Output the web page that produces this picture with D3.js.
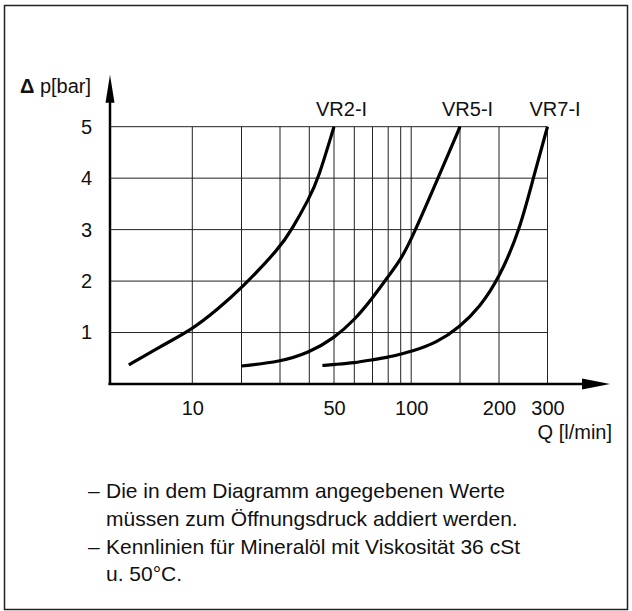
<!DOCTYPE html>
<html>
<head>
<meta charset="utf-8">
<script src="https://cdn.jsdelivr.net/npm/d3@7"></script>
<style>
  body { margin: 0; background: #fff; }
  text { font-family: "Liberation Sans", Arial, sans-serif; fill: #111; }
</style>
</head>
<body>
<script>
// grid lines and labels on the flow axis (l/min)
var qGrid = [10, 20, 30, 40, 50, 60, 70, 80, 90, 100, 150, 200, 300];
var qTicks = [10, 50, 100, 200, 300];
// pressure drop ticks (bar)
var pTicks = [1, 2, 3, 4, 5];

// curves: flow Q [l/min] and pressure drop [bar]
var vr2Q = [4.6, 7.2, 10, 15, 20, 30, 34, 40, 43.7, 50];
var vr2P = [0.37, 0.72, 1.06, 1.44, 1.86, 2.65, 3.0, 3.61, 4.0, 5.0];

var vr5Q = [20, 30, 40, 50, 60, 70, 80, 90, 100, 127.5, 150];
var vr5P = [0.35, 0.43, 0.61, 0.89, 1.24, 1.67, 2.09, 2.42, 2.8, 4.0, 5.0];

var vr7Q = [45.3, 50, 60, 70, 80, 90, 100, 126, 150, 175.6, 200, 243, 270.5, 300];
var vr7P = [0.36, 0.38, 0.41, 0.47, 0.52, 0.58, 0.63, 0.8, 1.11, 1.5, 2.05, 3.0, 4.0, 5.0];

var curveNames = ["VR2-I", "VR5-I", "VR7-I"];

var notes = [
    ["–", "Die in dem Diagramm angegebenen Werte"],
    ["", "müssen zum Öffnungsdruck addiert werden."],
    ["–", "Kennlinien für Mineralöl mit Viskosität 36 cSt"],
    ["", "u. 50°C."]
];

var width = 632, height = 611;

var svg = d3.select("body").append("svg")
    .attr("width", width)
    .attr("height", height);

// outer frame
svg.append("rect")
    .attr("x", 4.5).attr("y", 5.5)
    .attr("width", 623).attr("height", 604)
    .attr("fill", "none")
    .attr("stroke", "#222")
    .attr("stroke-width", 1.5);

// the flow axis of the drawing is not a clean log scale,
// so use a piecewise linear scale through the grid lines
var x = d3.scaleLinear()
    .domain([3].concat(qGrid))
    .range([110, 192.3, 241.5, 280, 309.3, 334, 354.3, 372.5, 388.2, 400.7, 411.2, 460, 499, 547.5]);

var y = d3.scaleLinear()
    .domain([0, 5])
    .range([384, 126.7]);

var x0 = x.range()[0], xEnd = x(300);

// grid
svg.append("g").selectAll("line")
    .data(pTicks)
    .enter().append("line")
    .attr("x1", x0).attr("x2", xEnd)
    .attr("y1", function(d) { return y(d); })
    .attr("y2", function(d) { return y(d); })
    .attr("stroke", "#222").attr("stroke-width", 1);

svg.append("g").selectAll("line")
    .data(qGrid)
    .enter().append("line")
    .attr("x1", function(d) { return x(d); })
    .attr("x2", function(d) { return x(d); })
    .attr("y1", y(0)).attr("y2", y(5))
    .attr("stroke", "#222").attr("stroke-width", 1);

// axes, labels only
var yAxis = svg.append("g")
    .attr("transform", "translate(" + x0 + ",0)")
    .call(d3.axisLeft(y).tickValues(pTicks).tickFormat(d3.format("d"))
        .tickSize(0).tickPadding(18));
yAxis.select(".domain").remove();

var xAxis = svg.append("g")
    .attr("transform", "translate(0," + y(0) + ")")
    .call(d3.axisBottom(x).tickValues(qTicks).tickFormat(d3.format("d"))
        .tickSize(0).tickPadding(17));
xAxis.select(".domain").remove();

svg.selectAll(".tick text")
    .attr("font-family", "Liberation Sans, Arial, sans-serif")
    .attr("font-size", 20)
    .attr("fill", "#111");

// axis lines with arrow heads
svg.append("line")
    .attr("x1", x0).attr("x2", x0)
    .attr("y1", y(0) + 1).attr("y2", y(5) - 26)
    .attr("stroke", "#000").attr("stroke-width", 2.5);
svg.append("path")
    .attr("d", "M" + (x0 - 4.5) + "," + (y(5) - 24) + "L" + x0 + "," + (y(5) - 52) +
        "L" + (x0 + 4.5) + "," + (y(5) - 24) + "Z")
    .attr("fill", "#000");

svg.append("line")
    .attr("x1", x0 - 1.5).attr("x2", 585)
    .attr("y1", y(0)).attr("y2", y(0))
    .attr("stroke", "#000").attr("stroke-width", 2.5);
svg.append("path")
    .attr("d", "M582," + (y(0) - 5.5) + "L610," + y(0) + "L582," + (y(0) + 5.5) + "Z")
    .attr("fill", "#000");

// axis titles
svg.append("text")
    .attr("x", 20).attr("y", 93)
    .attr("font-size", 20)
    .call(function(t) {
        t.append("tspan").attr("font-weight", "bold").text("Δ");
        t.append("tspan").text(" p[bar]");
    });

svg.append("text")
    .attr("x", 612).attr("y", 439)
    .attr("text-anchor", "end")
    .attr("font-size", 20)
    .text("Q [l/min]");

// curves
var series = [
    d3.zip(vr2Q, vr2P),
    d3.zip(vr5Q, vr5P),
    d3.zip(vr7Q, vr7P)
];

// basis curve smooths out small reading errors
var valueline = d3.line()
    .x(function(d) { return x(d[0]); })
    .y(function(d) { return y(d[1]); })
    .curve(d3.curveBasis);

svg.append("g").selectAll("path")
    .data(series)
    .enter().append("path")
    .attr("fill", "none")
    .attr("stroke", "#000")
    .attr("stroke-width", 3.2)
    .attr("stroke-linecap", "butt")
    .attr("d", valueline);

svg.append("g").selectAll("text")
    .data(series)
    .enter().append("text")
    .attr("x", function(d) { return x(d[d.length - 1][0]) - 18; })
    .attr("y", function(d) { return y(d[d.length - 1][1]) - 11; })
    .attr("font-size", 20)
    .text(function(d, i) { return curveNames[i]; });

// notes below the chart
var noteG = svg.append("g").selectAll("g")
    .data(notes)
    .enter().append("g")
    .attr("transform", function(d, i) { return "translate(0," + (498 + i * 27.8) + ")"; });

noteG.append("text")
    .attr("x", 88)
    .attr("font-size", 21)
    .text(function(d) { return d[0]; });
noteG.append("text")
    .attr("x", 106)
    .attr("font-size", 21)
    .text(function(d) { return d[1]; });
</script>
</body>
</html>
